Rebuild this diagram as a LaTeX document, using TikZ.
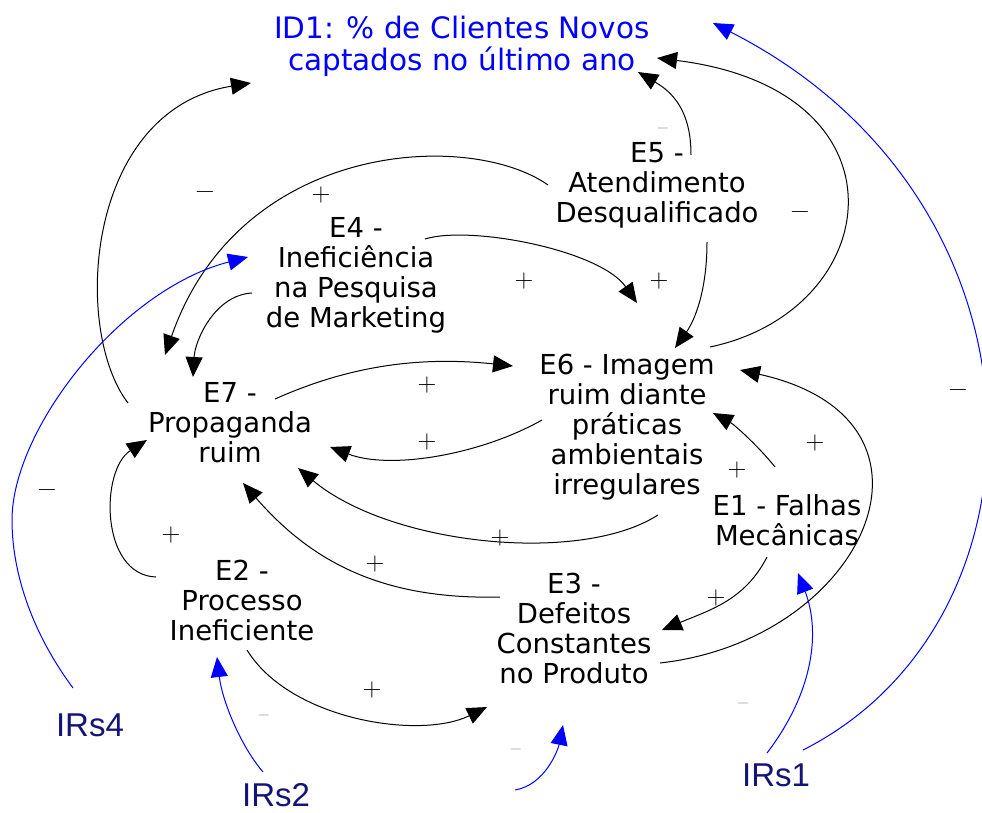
\documentclass[tikz,border=0pt]{standalone}
\usepackage{fontspec}
\setmainfont{DejaVu Sans}
\newfontfamily\irsfont{Liberation Sans}
\newfontfamily\signfont{Latin Modern Roman}
\usetikzlibrary{arrows.meta}
\definecolor{irsblue}{RGB}{20,20,120}
\begin{document}
\begin{tikzpicture}[x=1pt,y=-1pt,
 every node/.style={inner sep=0pt},
 factor/.style={align=center,font=\fontsize{27.5}{30}\selectfont},
 goal/.style={align=center,text=blue,font=\fontsize{29.5}{32}\selectfont},
 irs/.style={text=irsblue,font=\irsfont\fontsize{33}{36}\selectfont},
 link/.style={draw=black,line width=1pt,-{Triangle[length=20pt,width=17pt]}},
 ilink/.style={draw=blue,line width=1pt,-{Triangle[length=20pt,width=17pt]}},
 sgn/.style={font=\signfont\fontsize{26}{26}\selectfont},
 sgs/.style={text=gray,font=\signfont\fontsize{16}{16}\selectfont}]
\useasboundingbox (0,0) rectangle (982,813);

% nodes
\node[goal]   (id1) at (462,46) {ID1: \% de Clientes Novos\\captados no último ano};
\node[factor] (e5) at (657,185) {E5 -\\Atendimento\\Desqualificado};
\node[factor] (e4) at (356,275) {E4 -\\Ineficiência\\na Pesquisa\\de Marketing};
\node[factor] (e6) at (627,427) {E6 - Imagem\\ruim diante\\práticas\\ambientais\\irregulares};
\node[factor] (e7) at (230,423) {E7 -\\Propaganda\\ruim};
\node[factor] (e1) at (787,520) {E1 - Falhas\\Mecânicas};
\node[factor] (e2) at (242,600) {E2 -\\Processo\\Ineficiente};
\node[factor] (e3) at (574,628) {E3 -\\Defeitos\\Constantes\\no Produto};
\node[irs] (irs4) at (90,725) {IRs4};
\node[irs] (irs2) at (276,795) {IRs2};
\node[irs] (irs1) at (776,775) {IRs1};
\coordinate (irs3) at (515,790);

% black links
\draw[link] ([shift={(-102,-20)}]e7.center) .. controls (72,330) and (85,110) .. ([shift={(-211,37)}]id1.center);
\draw[link] ([shift={(34,-30)}]e5.center) .. controls (691,110) and (672,92) .. ([shift={(176,26)}]id1.center);
\draw[link] ([shift={(83,-80)}]e6.center) .. controls (885,310) and (915,90) .. ([shift={(195,12)}]id1.center);
\draw[link] ([shift={(-109,0)}]e5.center) .. controls (470,130) and (240,140) .. ([shift={(-65,-68)}]e7.center);
\draw[link] ([shift={(69,-36)}]e4.center) .. controls (470,225) and (600,250) .. ([shift={(10,-124)}]e6.center);
\draw[link] ([shift={(50,57)}]e5.center) .. controls (707,290) and (695,320) .. ([shift={(48,-79)}]e6.center);
\draw[link] ([shift={(-104,18)}]e4.center) .. controls (215,295) and (195,340) .. ([shift={(-37,-46)}]e7.center);
\draw[link] ([shift={(45,-24)}]e7.center) .. controls (340,370) and (410,355) .. ([shift={(-114,-61)}]e6.center);
\draw[link] ([shift={(-85,-7)}]e6.center) .. controls (480,455) and (390,470) .. ([shift={(100,24)}]e7.center);
\draw[link] ([shift={(-129,-5)}]e1.center) .. controls (580,565) and (390,545) .. ([shift={(68,45)}]e7.center);
\draw[link] ([shift={(-74,-31)}]e3.center) .. controls (380,600) and (310,560) .. ([shift={(13,60)}]e7.center);
\draw[link] ([shift={(-86,-23)}]e2.center) .. controls (100,575) and (100,470) .. ([shift={(-83,17)}]e7.center);
\draw[link] ([shift={(5,50)}]e2.center) .. controls (290,720) and (420,740) .. ([shift={(-87,79)}]e3.center);
\draw[link] ([shift={(-12,-53)}]e1.center) .. controls (760,448) and (735,425) .. ([shift={(86,-14)}]e6.center);
\draw[link] ([shift={(86,35)}]e3.center) .. controls (865,640) and (965,420) .. ([shift={(113,-57)}]e6.center);
\draw[link] ([shift={(-20,37)}]e1.center) .. controls (745,600) and (710,610) .. ([shift={(88,2)}]e3.center);

% blue links
\draw[ilink] ([shift={(27,-25)}]irs1.center) .. controls (1060,620) and (1060,200) .. ([shift={(251,-23)}]id1.center);
\draw[ilink] ([shift={(-17,-37)}]irs4.center) .. controls (30,630) and (12,570) .. (12,520) .. controls (12,430) and (120,290) .. ([shift={(-108,-18)}]e4.center);
\draw[ilink] ([shift={(-13,-23)}]irs2.center) .. controls (240,745) and (222,700) .. ([shift={(-25,57)}]e2.center);
\draw[ilink] ([shift={(-9,-22)}]irs1.center) .. controls (815,690) and (820,630) .. ([shift={(11,53)}]e1.center);
\draw[ilink] (irs3) .. controls (545,785) and (558,750) .. ([shift={(-11,97)}]e3.center);

% signs
\node[sgn] (s1) at (205,195) {−};
\node[sgn] (s2) at (321,195) {+};
\node[sgs] (s3) at (663,130) {−};
\node[sgn] (s4) at (800,215) {−};
\node[sgn] (s5) at (524,281) {+};
\node[sgn] (s6) at (659,281) {+};
\node[sgn] (s7) at (958,393) {−};
\node[sgn] (s8) at (427,385) {+};
\node[sgn] (s9) at (427,442) {+};
\node[sgn] (s10) at (815,443) {+};
\node[sgn] (s11) at (737,470) {+};
\node[sgn] (s12) at (47,493) {−};
\node[sgn] (s13) at (500,538) {+};
\node[sgn] (s14) at (171,535) {+};
\node[sgn] (s15) at (375,564) {+};
\node[sgn] (s16) at (716,598) {+};
\node[sgn] (s17) at (372,690) {+};
\node[sgs] (s18) at (264,717) {−};
\node[sgs] (s19) at (743,705) {−};
\node[sgs] (s20) at (516,751) {−};
\end{tikzpicture}
\end{document}
